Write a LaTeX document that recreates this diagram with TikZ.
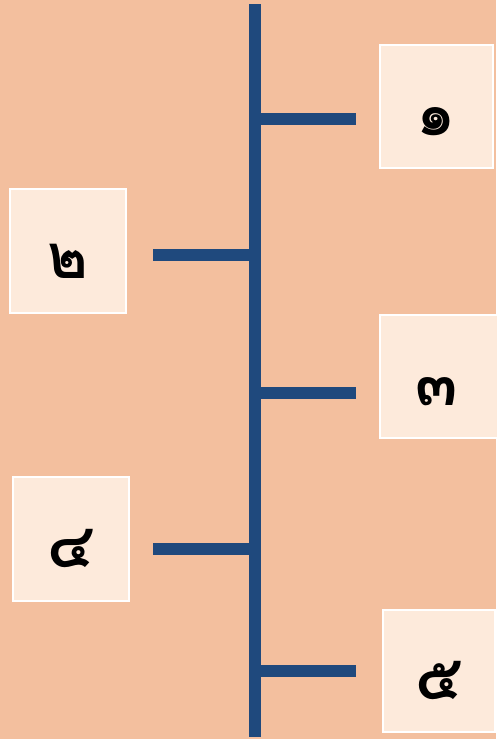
\documentclass[tikz,border=0pt]{standalone}
\usepackage{fontspec}
\newfontfamily\thaifont[Script=Thai]{Loma}
\definecolor{bg}{HTML}{F3BF9E}
\definecolor{boxfill}{HTML}{FDEADB}
\definecolor{spine}{HTML}{1F497D}
\tikzset{
  card/.style={fill=boxfill, draw=white, line width=1.5pt},
  digit/.style={anchor=base, inner sep=0pt, font=\thaifont\bfseries\fontsize{62}{62}\selectfont},
  branch/.style={draw=spine, line width=12pt},
}
\begin{document}
\begin{tikzpicture}[x=1pt,y=-1pt]
\fill[bg] (0,0) rectangle (496,739);
\useasboundingbox (0,0) rectangle (496,739);
% spine
\coordinate (top) at (255,4);
\coordinate (bot) at (255,737);
\draw[branch] (top) -- (bot);
% junctions and branch ends
\coordinate (j1) at (255,119); \coordinate (e1) at (356,119);
\coordinate (j2) at (255,255); \coordinate (e2) at (153,255);
\coordinate (j3) at (255,393); \coordinate (e3) at (356,393);
\coordinate (j4) at (255,549); \coordinate (e4) at (153,549);
\coordinate (j5) at (255,671); \coordinate (e5) at (356,671);
\draw[branch] (j1) -- (e1);
\draw[branch] (j2) -- (e2);
\draw[branch] (j3) -- (e3);
\draw[branch] (j4) -- (e4);
\draw[branch] (j5) -- (e5);
% cards
\draw[card] (380,45) rectangle (493,168);
\draw[card] (10,189) rectangle (126,313);
\draw[card] (380,315) rectangle (498,438);
\draw[card] (13,477) rectangle (129,601);
\draw[card] (383,610) rectangle (495,732);
% digits
\node[digit] (d1) at (436.5,135) {๑};
\node[digit] (d2) at (68,278) {๒};
\node[digit] (d3) at (437,405) {๓};
\node[digit] (d4) at (71,567) {๔};
\node[digit] (d5) at (439,699) {๕};
\end{tikzpicture}
\end{document}
